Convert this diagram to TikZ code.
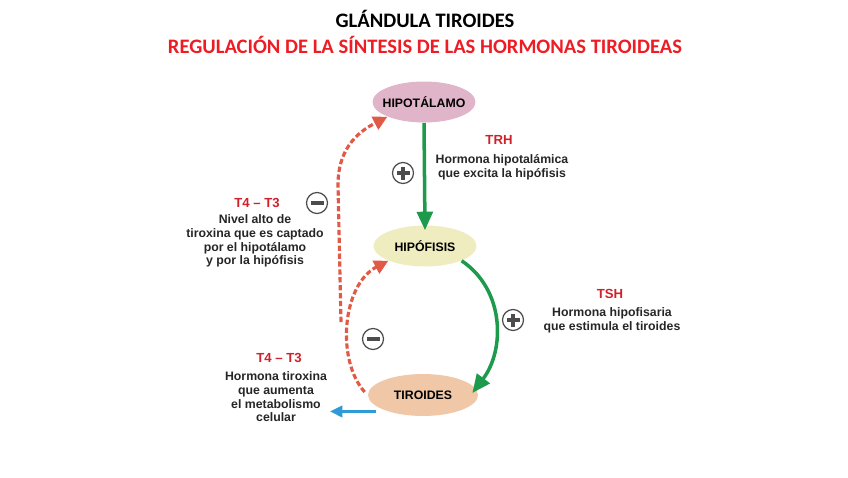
\documentclass[tikz,border=0pt]{standalone}
\usepackage{fontspec}
\setmainfont{Liberation Sans}
\newfontfamily\calib{Carlito}
\usetikzlibrary{arrows.meta, positioning, shapes.geometric}
\definecolor{hgreen}{HTML}{1E9A4C}
\definecolor{hred}{HTML}{D0202A}
\definecolor{tred}{HTML}{EE1C24}
\definecolor{fbred}{HTML}{E05A46}
\definecolor{hblue}{HTML}{2E9BD6}
\definecolor{cpink}{HTML}{E0B4C9}
\definecolor{cyel}{HTML}{EFEDC0}
\definecolor{cpeach}{HTML}{F0C8A8}

\begin{document}
\begin{tikzpicture}[
      x=0.02cm, y=-0.02cm,
      organ/.style={ellipse, inner sep=0pt, minimum width=2.06cm, minimum height=0.82cm, font=\fontsize{7}{8}\selectfont\bfseries},
      hname/.style={text=hred, font=\fontsize{7.5}{9}\selectfont\bfseries},
      desc/.style={align=center, text=black!85, font=\fontsize{7}{7.8}\selectfont\bfseries},
      sgn/.style={circle, draw=black!70, line width=0.7pt, minimum size=0.42cm, inner sep=0pt},
      plus/.style={sgn, path picture={
          \draw[line width=2pt] ([xshift=-0.13cm]path picture bounding box.center) -- ([xshift=0.13cm]path picture bounding box.center);
          \draw[line width=2pt] ([yshift=-0.13cm]path picture bounding box.center) -- ([yshift=0.13cm]path picture bounding box.center);}},
      minus/.style={sgn, path picture={
          \draw[line width=2pt] ([xshift=-0.13cm]path picture bounding box.center) -- ([xshift=0.13cm]path picture bounding box.center);}},
      ar/.style={-{Triangle[length=10.5pt, width=9pt]}, line width=2pt, draw=hgreen},
      fb/.style={-{Triangle[length=8pt, width=8pt]}, line width=1.8pt, draw=fbred, dash pattern=on 3pt off 1.5pt},
      bar/.style={-{Triangle[length=7pt, width=6.5pt]}, line width=1.4pt, draw=hblue}
    ]
    \path[use as bounding box] (0,0) rectangle (848,477);
    % titles
    \node[font=\calib\fontsize{11.7}{14}\selectfont\bfseries] (tit) at (425,19) {GLÁNDULA TIROIDES};
    \node[font=\calib\fontsize{11.7}{14}\selectfont\bfseries, text=tred] (sub) at (425,45) {REGULACIÓN DE LA SÍNTESIS DE LAS HORMONAS TIROIDEAS};
    % glands
    \node[organ, fill=cpink] (hipot) at (424,102) {\makebox[1.3cm]{HIPOTÁLAMO}};
    \node[organ, fill=cyel] (hipof) at (425,246) {\makebox[1.3cm]{HIPÓFISIS}};
    \node[organ, fill=cpeach, minimum width=2.2cm, minimum height=0.84cm] (tiro) at (423,395) {\makebox[1.3cm]{TIROIDES}};
    % signs
    \node[plus] (p1) at (403,173) {};
    \node[plus] (p2) at (513,320) {};
    \node[minus] (m1) at (317,203) {};
    \node[minus] (m2) at (373,339) {};
    % labels
    \node[hname] (trh) at (499,140) {TRH};
    \node[desc] (trhd) at (502,167) {Hormona hipotalámica\\que excita la hipófisis};
    \node[hname] (tsh) at (610,294) {TSH};
    \node[desc] (tshd) at (612,320) {Hormona hipofisaria\\que estimula el tiroides};
    \node[hname] (t4a) at (257,203) {T4 -- T3};
    \node[desc] (t4ad) at (255,241) {Nivel alto de\\tiroxina que es captado\\por el hipotálamo\\y por la hipófisis};
    \node[hname] (t4b) at (279,358) {T4 -- T3};
    \node[desc] (t4bd) at (276,397) {Hormona tiroxina\\que aumenta\\el metabolismo\\celular};
    % arrows
    \draw[ar] (hipot.south) -- ([yshift=-0.1cm]hipof.north);
    \draw[ar] (hipof.south east) .. controls (505,290) and (505,350) .. ([shift={(-6,-2)}]tiro.east);
    \coordinate (br) at (341,322);
    \coordinate (bl) at (330,411);
    \draw[fb] ([shift={(-3,-3)}]tiro.west) .. controls (336,360) and (342,285) .. (hipof.south west);
    \draw[fb] (br) -- (338,185) .. controls (338,145) and (362,130) .. (hipot.south west);
    \draw[bar] ([xshift=-0.24cm]tiro.205) -- (tiro.205 -| bl);
  \end{tikzpicture}
\end{document}
